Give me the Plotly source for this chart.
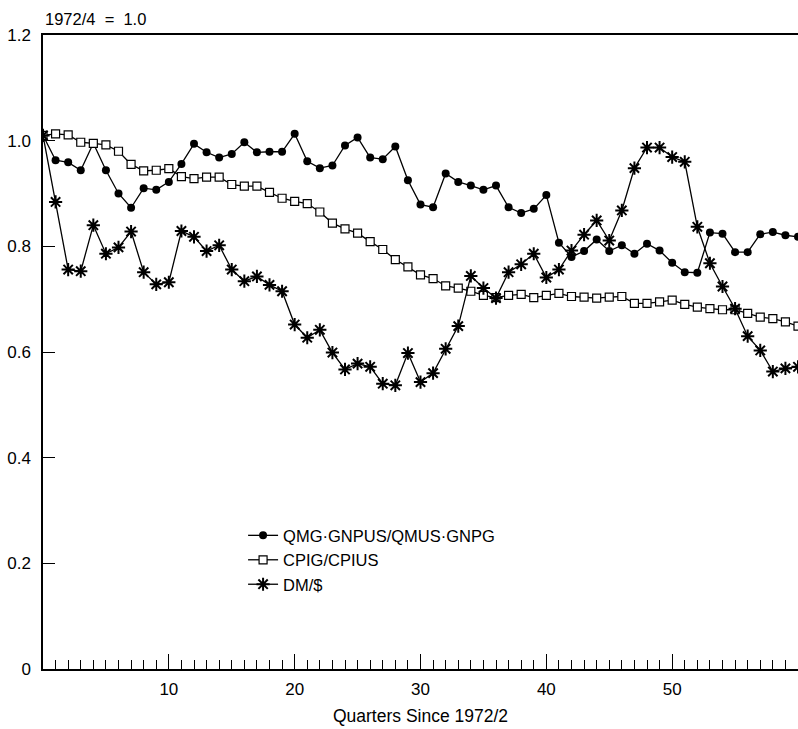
import plotly.graph_objects as go

quarters = list(range(0, 61))

qmg_ratio = [1.01, 0.963, 0.959, 0.944, 0.995, 0.944, 0.900, 0.873, 0.910, 0.907,
             0.922, 0.956, 0.994, 0.978, 0.968, 0.975, 0.997, 0.978, 0.979, 0.979,
             1.013, 0.961, 0.948, 0.953, 0.991, 1.006, 0.968, 0.965, 0.989, 0.925,
             0.879, 0.874, 0.938, 0.922, 0.915, 0.907, 0.915, 0.874, 0.863, 0.871,
             0.897, 0.807, 0.780, 0.791, 0.813, 0.791, 0.802, 0.786, 0.805, 0.792,
             0.769, 0.751, 0.750, 0.826, 0.824, 0.789, 0.789, 0.823, 0.827, 0.821,
             0.818]

cpi_ratio = [1.01, 1.013, 1.011, 0.997, 0.995, 0.992, 0.980, 0.955, 0.943, 0.944,
             0.947, 0.932, 0.928, 0.931, 0.931, 0.917, 0.914, 0.914, 0.902, 0.891,
             0.885, 0.881, 0.865, 0.844, 0.833, 0.825, 0.809, 0.794, 0.775, 0.761,
             0.746, 0.739, 0.725, 0.721, 0.715, 0.707, 0.703, 0.707, 0.709, 0.703,
             0.707, 0.711, 0.705, 0.704, 0.702, 0.704, 0.705, 0.692, 0.692, 0.695,
             0.698, 0.690, 0.685, 0.682, 0.680, 0.680, 0.673, 0.666, 0.663, 0.657,
             0.649]

dm_dollar = [1.01, 0.884, 0.756, 0.753, 0.840, 0.786, 0.798, 0.828, 0.751, 0.728,
             0.732, 0.829, 0.818, 0.791, 0.802, 0.756, 0.734, 0.743, 0.727, 0.715,
             0.652, 0.627, 0.642, 0.599, 0.567, 0.578, 0.572, 0.540, 0.537, 0.598,
             0.543, 0.560, 0.606, 0.649, 0.744, 0.721, 0.702, 0.751, 0.766, 0.786,
             0.741, 0.756, 0.792, 0.822, 0.849, 0.811, 0.868, 0.948, 0.987, 0.987,
             0.969, 0.960, 0.837, 0.768, 0.724, 0.682, 0.630, 0.603, 0.563, 0.569,
             0.572]

y_tickvals = [0, 0.2, 0.4, 0.6, 0.8, 1.0, 1.2]
y_ticktext = ["0", "0.2", "0.4", "0.6", "0.8", "1.0", "1.2"]
x_tickvals = [10, 20, 30, 40, 50]
x_ticktext = ["10", "20", "30", "40", "50"]

FONT = "Liberation Sans, Arial, Helvetica, sans-serif"

fig = go.Figure()
fig.add_trace(go.Scatter(
    x=quarters, y=qmg_ratio, mode="lines+markers", name="QMG·GNPUS/QMUS·GNPG",
    line=dict(color="black", width=1.3),
    marker=dict(symbol="circle", size=8, color="black"),
    legendgroup="a"))
fig.add_trace(go.Scatter(
    x=quarters, y=cpi_ratio, mode="lines+markers", name="CPIG/CPIUS",
    line=dict(color="black", width=1.3),
    marker=dict(symbol="square", size=8, color="white", line=dict(color="black", width=1.2)),
    legendgroup="b"))
fig.add_trace(go.Scatter(
    x=quarters, y=dm_dollar, mode="lines+markers", name="DM/$",
    line=dict(color="black", width=1.3),
    marker=dict(symbol="asterisk-open", size=11, color="black", line=dict(color="black", width=2)),
    legendgroup="c"))

fig.update_layout(
    width=798, height=729,
    margin=dict(l=43, r=0, t=35, b=60),
    paper_bgcolor="white", plot_bgcolor="white",
    font=dict(family=FONT, size=17, color="black"),
    showlegend=True,
    legend=dict(x=0.265, y=0.238, xanchor="left", yanchor="top",
                font=dict(size=16.5, family=FONT), bgcolor="rgba(0,0,0,0)",
                tracegroupgap=0, traceorder="grouped", itemwidth=30),
    xaxis=dict(range=[0, 60], showgrid=False, zeroline=False, automargin=False,
               showline=True, linecolor="black", linewidth=1.5, mirror=True,
               tickvals=x_tickvals, ticktext=x_ticktext,
               ticks="inside", ticklen=15, tickwidth=1.3, tickcolor="black",
               minor=dict(dtick=1, ticks="inside", ticklen=9, tickwidth=1.2, tickcolor="black"),
               tickfont=dict(size=17), ticklabelstandoff=4,
               title=dict(text="Quarters Since 1972/2", font=dict(size=17.5), standoff=12)),
    yaxis=dict(range=[0, 1.2], showgrid=False, zeroline=False, automargin=False,
               showline=True, linecolor="black", linewidth=1.5,
               tickvals=y_tickvals, ticktext=y_ticktext,
               ticks="inside", ticklen=12, tickwidth=1.3, tickcolor="black",
               tickfont=dict(size=17), ticklabelstandoff=7),
    annotations=[dict(text="1972/4\u00a0\u00a0=\u00a0\u00a01.0", xref="paper", yref="paper", x=0, y=1,
                      xanchor="left", yanchor="bottom", yshift=5, showarrow=False,
                      font=dict(size=16.5, family=FONT))],
)

fig.write_html("out.html", config={"displayModeBar": False},
               post_script="document.body.style.margin='0';document.body.style.overflow='hidden';")
